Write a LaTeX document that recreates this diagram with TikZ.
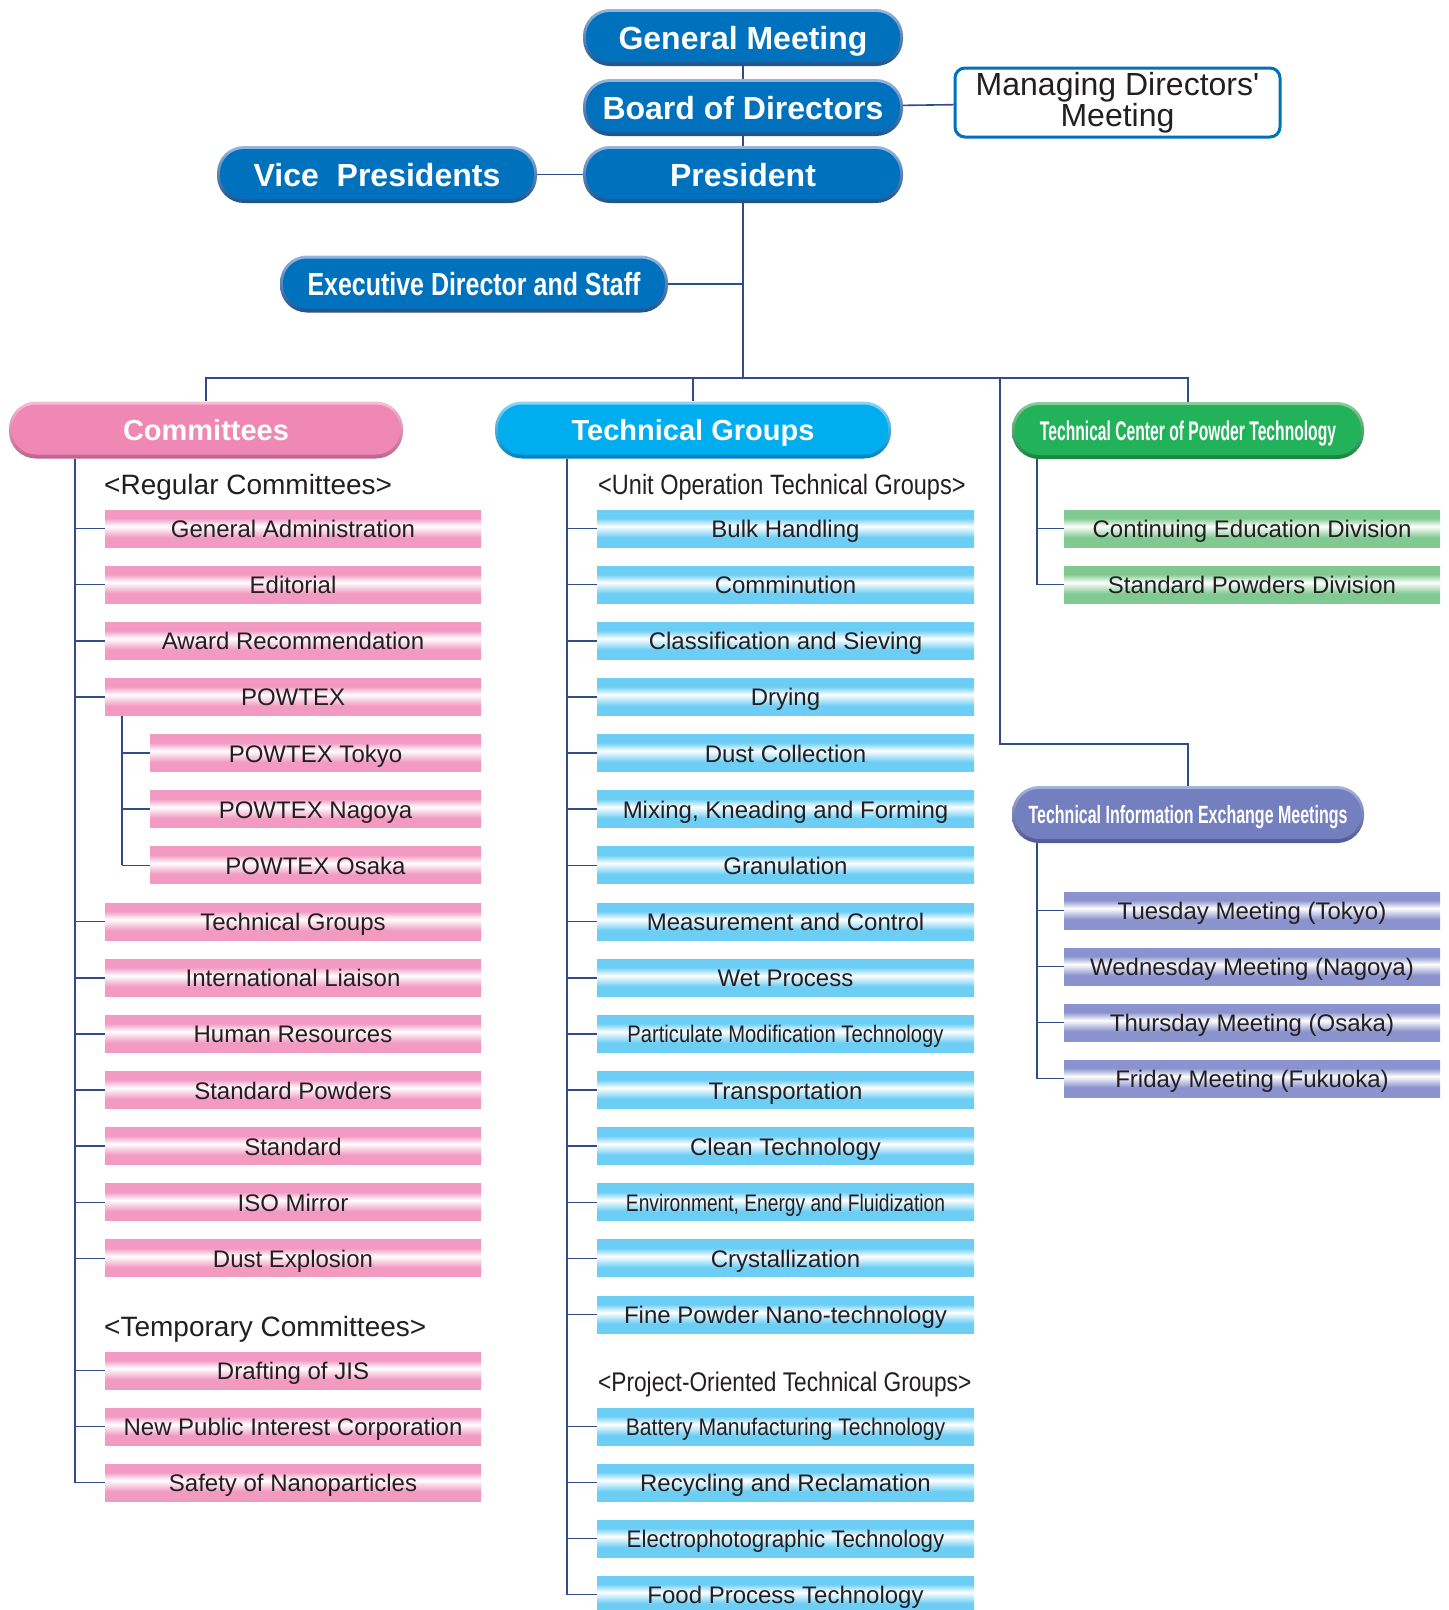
\documentclass[tikz,border=0pt]{standalone}
\usepackage{fontspec}
\setmainfont{Liberation Sans}
\newfontfamily\execfont[FakeStretch=0.78]{Liberation Sans}
\newfontfamily\centerfont[FakeStretch=0.58]{Liberation Sans}
\newfontfamily\meetfont[FakeStretch=0.64]{Liberation Sans}
\newfontfamily\narrowfont[FakeStretch=0.84]{Liberation Sans}
\newfontfamily\tightfont[FakeStretch=0.8]{Liberation Sans}
\newfontfamily\midfont[FakeStretch=0.88]{Liberation Sans}
\newfontfamily\semifont[FakeStretch=0.93]{Liberation Sans}
\usetikzlibrary{calc,positioning}

%header colours: main, light rim, dark rim
\definecolor{blueM}{RGB}{0,113,188}
\definecolor{blueL}{RGB}{150,182,222}
\definecolor{blueD}{RGB}{30,82,140}
\definecolor{pinkM}{RGB}{240,136,181}
\definecolor{pinkL}{RGB}{247,190,214}
\definecolor{pinkD}{RGB}{190,100,140}
\definecolor{cyanM}{RGB}{0,174,239}
\definecolor{cyanL}{RGB}{140,215,245}
\definecolor{cyanD}{RGB}{0,130,190}
\definecolor{greenM}{RGB}{34,178,90}
\definecolor{greenL}{RGB}{140,205,155}
\definecolor{greenD}{RGB}{25,130,65}
\definecolor{purpleM}{RGB}{115,127,190}
\definecolor{purpleL}{RGB}{165,178,220}
\definecolor{purpleD}{RGB}{80,88,150}
%bar colours
\definecolor{pinkB}{RGB}{242,154,194}
\definecolor{cyanB}{RGB}{108,206,245}
\definecolor{greenB}{RGB}{128,202,145}
\definecolor{purpleB}{RGB}{138,147,206}
\definecolor{lineC}{RGB}{50,75,140}
\definecolor{txtC}{RGB}{35,31,32}

%glossy bars
\pgfdeclareverticalshading{pinkbar}{100bp}{color(0bp)=(pinkB); color(38bp)=(pinkB); color(53bp)=(white); color(64bp)=(pinkB); color(100bp)=(pinkB)}
\pgfdeclareverticalshading{cyanbar}{100bp}{color(0bp)=(cyanB); color(38bp)=(cyanB); color(53bp)=(white); color(64bp)=(cyanB); color(100bp)=(cyanB)}
\pgfdeclareverticalshading{greenbar}{100bp}{color(0bp)=(greenB); color(38bp)=(greenB); color(53bp)=(white); color(64bp)=(greenB); color(100bp)=(greenB)}
\pgfdeclareverticalshading{purplebar}{100bp}{color(0bp)=(purpleB); color(38bp)=(purpleB); color(53bp)=(white); color(64bp)=(purpleB); color(100bp)=(purpleB)}

\tikzset{
  hdr/.style={rectangle, rounded corners=27pt, top color=#1L, bottom color=#1D,
    path picture={\fill[#1M, rounded corners=24pt]
      ($(path picture bounding box.south west)+(3pt,4pt)$) rectangle
      ($(path picture bounding box.north east)+(-3pt,-3pt)$);},
    text=white, inner sep=0pt, minimum height=57pt, text depth=0pt},
  bar/.style={rectangle, shading=#1bar, inner sep=0pt, minimum height=37pt,
    text height=18pt, text depth=0pt, text=txtC, font=\fontsize{24}{28}\selectfont},
  sect/.style={anchor=west, inner sep=0pt, text=txtC, font=\fontsize{28}{32}\selectfont},
  conn/.style={draw=lineC, line width=1.6pt}
}

\begin{document}
\begin{tikzpicture}[x=1pt,y=-1pt]
  \useasboundingbox (0,0) rectangle (1449,1610);
  %top of the chart
  \node[hdr=blue, minimum width=320pt, text height=23pt, font=\fontsize{32}{36}\selectfont\bfseries] (gm) at (743,37.5) {General Meeting};
  \node[hdr=blue, minimum width=320pt, text height=23pt, font=\fontsize{32}{36}\selectfont\bfseries] (bod) at (743,107.5) {Board of Directors};
  \node[hdr=blue, minimum width=320pt, text height=23pt, font=\fontsize{32}{36}\selectfont\bfseries] (pres) at (743,174.5) {President};
  \node[hdr=blue, minimum width=320pt, text height=23pt, font=\fontsize{32}{36}\selectfont\bfseries] (vp) at (377,174.5) {Vice\ \ Presidents};
  \node[hdr=blue, minimum width=388pt, text height=23pt, font=\execfont\fontsize{32}{36}\selectfont\bfseries] (exec) at (474,284) {Executive Director and Staff};
  \node[draw=blueM, fill=white, line width=3pt, rounded corners=10pt, minimum width=325pt, minimum height=69pt,
    inner sep=0pt, align=center, text=txtC, font=\fontsize{32}{31}\selectfont] (mdm) at (1117.5,102.5) {Managing Directors\textquotesingle\\Meeting};
  %four branches
  \node[hdr=pink, minimum width=394pt, text height=21pt, font=\fontsize{29}{33}\selectfont\bfseries] (com) at (206,430) {Committees};
  \node[hdr=cyan, minimum width=396pt, text height=21pt, font=\fontsize{29}{33}\selectfont\bfseries] (tg) at (693,430) {Technical Groups};
  \node[hdr=green, minimum width=352pt, text height=19.5pt, font=\centerfont\fontsize{27}{31}\selectfont\bfseries] (tcpt) at (1188,430.5) {Technical Center of Powder Technology};
  \node[hdr=purple, minimum width=352pt, text height=18pt, font=\meetfont\fontsize{25}{29}\selectfont\bfseries] (tiem) at (1188,814.5) {Technical Information Exchange Meetings};
  %links between the top boxes
  \coordinate (hub) at (743,378);
  \coordinate (bend) at (1000,744);
  \draw[conn] (gm) -- (bod);
  \draw[conn] (bod) -- (pres);
  \draw[conn] (vp) -- (pres);
  \draw[conn] (bod) -- (mdm);
  \draw[conn] (pres) -- (hub);
  \draw[conn] (exec.east) -- (hub |- exec.east);
  \draw[conn] (com.north) -- (com.north |- hub) -- (tcpt.north |- hub) -- (tcpt.north);
  \draw[conn] (tg.north) -- (tg.north |- hub);
  \draw[conn] (bend |- hub) -- (bend) -- (tiem.north |- bend) -- (tiem.north);

  %committees
  \node[sect] (regLbl) at (104,487) {<Regular Committees>};
  \foreach \t [count=\i from 0] in {General Administration,Editorial,Award Recommendation,POWTEX}
    \node[bar=pink, minimum width=376pt] (comR\i) at (293,{528.5+56.15*\i}) {\t};
  \foreach \t [count=\i from 4] in {POWTEX Tokyo,POWTEX Nagoya,POWTEX Osaka}
    \node[bar=pink, minimum width=331pt] (comR\i) at (315.5,{528.5+56.15*\i}) {\t};
  \foreach \t [count=\i from 7] in {Technical Groups,International Liaison,Human Resources,Standard Powders,Standard,ISO Mirror,Dust Explosion}
    \node[bar=pink, minimum width=376pt] (comR\i) at (293,{528.5+56.15*\i}) {\t};
  \node[sect] (tmpLbl) at (104,1329) {<Temporary Committees>};
  \foreach \t [count=\i from 0] in {Drafting of JIS,New Public Interest Corporation,Safety of Nanoparticles}
    \node[bar=pink, minimum width=376pt] (comT\i) at (293,{1370.5+56*\i}) {\t};
  \coordinate (comspine) at (75,0);
  \coordinate (subspine) at (122,0);
  \draw[conn] (comspine |- com.south) -- (comspine |- comT2.west);
  \foreach \i in {0,1,2,3,7,8,9,10,11,12,13}
    \draw[conn] (comspine |- comR\i.west) -- (comR\i.west);
  \foreach \i in {0,1,2}
    \draw[conn] (comspine |- comT\i.west) -- (comT\i.west);
  \draw[conn] (subspine |- comR3.south) -- (subspine |- comR6.west);
  \foreach \i in {4,5,6}
    \draw[conn] (subspine |- comR\i.west) -- (comR\i.west);

  %technical groups
  \node[sect, font=\narrowfont\fontsize{28}{32}\selectfont] (unitLbl) at (598,487) {<Unit Operation Technical Groups>};
  \foreach \t [count=\i from 0] in {Bulk Handling,Comminution,Classification and Sieving,Drying,Dust Collection,
      {Mixing, Kneading and Forming},Granulation,Measurement and Control,Wet Process,
      {\narrowfont Particulate Modification Technology},Transportation,Clean Technology,
      {\tightfont Environment, Energy and Fluidization},Crystallization,Fine Powder Nano-technology}
    \node[bar=cyan, minimum width=377pt] (tgU\i) at (785.5,{528.5+56.15*\i}) {\t};
  \node[sect, font=\narrowfont\fontsize{27}{32}\selectfont] (projLbl) at (598,1385) {<Project-Oriented Technical Groups>};
  \foreach \t [count=\i from 0] in {{\midfont Battery Manufacturing Technology},Recycling and Reclamation,
      {\semifont Electrophotographic Technology},Food Process Technology}
    \node[bar=cyan, minimum width=377pt] (tgP\i) at (785.5,{1426.5+56*\i}) {\t};
  \coordinate (tgspine) at (567,0);
  \draw[conn] (tgspine |- tg.south) -- (tgspine |- tgP3.west);
  \foreach \i in {0,...,14}
    \draw[conn] (tgspine |- tgU\i.west) -- (tgU\i.west);
  \foreach \i in {0,...,3}
    \draw[conn] (tgspine |- tgP\i.west) -- (tgP\i.west);

  %technical center
  \foreach \t [count=\i from 0] in {Continuing Education Division,Standard Powders Division}
    \node[bar=green, minimum width=376pt] (tcD\i) at (1252,{528.5+56.15*\i}) {\t};
  \coordinate (tcspine) at (1037,0);
  \draw[conn] (tcspine |- tcpt.south) -- (tcspine |- tcD1.west);
  \foreach \i in {0,1}
    \draw[conn] (tcspine |- tcD\i.west) -- (tcD\i.west);

  %exchange meetings
  \foreach \t [count=\i from 0] in {Tuesday Meeting (Tokyo),Wednesday Meeting (Nagoya),Thursday Meeting (Osaka),Friday Meeting (Fukuoka)}
    \node[bar=purple, minimum width=376pt] (tiM\i) at (1252,{910.5+56*\i}) {\t};
  \draw[conn] (tcspine |- tiem.south) -- (tcspine |- tiM3.west);
  \foreach \i in {0,...,3}
    \draw[conn] (tcspine |- tiM\i.west) -- (tiM\i.west);
\end{tikzpicture}
\end{document}
